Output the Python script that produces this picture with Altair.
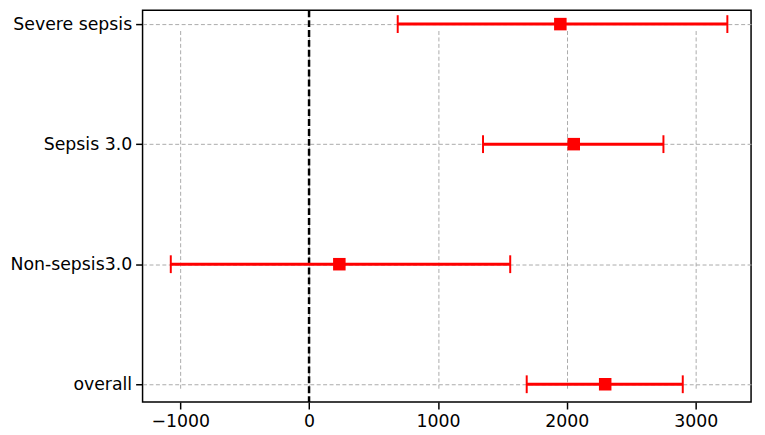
import altair as alt
import pandas as pd

categories = ["Severe sepsis", "Sepsis 3.0", "Non-sepsis3.0", "overall"]
estimate = [1950, 2054, 235, 2298]
lower = [688, 1350, -1073, 1689]
upper = [3246, 2750, 1561, 2900]
x_ticks = [-1000, 0, 1000, 2000, 3000]

df = pd.DataFrame({"cat": categories, "est": estimate, "lo": lower, "hi": upper})
zero_df = pd.DataFrame({"x": [0]})

FONT = "DejaVu Sans"

y_enc = alt.Y(
    "cat:N",
    sort=categories,
    scale=alt.Scale(type="point", padding=0, range=[14, 378]),
    axis=alt.Axis(
        title=None,
        grid=True,
        gridDash=[4, 2.5],
        gridColor="#aaaaaa",
        gridWidth=1,
        domain=False,
        ticks=True,
        tickColor="black",
        tickSize=7,
        tickWidth=1.5,
        labelFont=FONT,
        labelFontSize=17.5,
        labelColor="black",
        labelPadding=4,
    ),
)

x_scale = alt.Scale(domain=[-1292, 3430], nice=False, zero=False)
x_axis = alt.Axis(
    title=None,
    values=x_ticks,
    format="d",
    grid=True,
    gridDash=[4, 2.5],
    gridColor="#aaaaaa",
    gridWidth=1,
    domain=False,
    ticks=True,
    tickColor="black",
    tickSize=7,
    tickWidth=1.5,
    labelFont=FONT,
    labelFontSize=17.5,
    labelColor="black",
    labelPadding=4,
)

base = alt.Chart(df)

bars = base.mark_rule(color="#ff0000", strokeWidth=3).encode(
    x=alt.X("lo:Q", scale=x_scale, axis=x_axis),
    x2="hi:Q",
    y=y_enc,
)

cap_lo = base.mark_tick(color="#ff0000", size=18, thickness=2, opacity=1).encode(
    x=alt.X("lo:Q", scale=x_scale), y=y_enc
)
cap_hi = base.mark_tick(color="#ff0000", size=18, thickness=2, opacity=1).encode(
    x=alt.X("hi:Q", scale=x_scale), y=y_enc
)

points = base.mark_square(color="#ff0000", size=160, opacity=1, filled=True).encode(
    x=alt.X("est:Q", scale=x_scale), y=y_enc
)

zero = alt.Chart(zero_df).mark_rule(
    color="black", strokeWidth=2.5, strokeDash=[7, 3]
).encode(x=alt.X("x:Q", scale=x_scale))

chart = (
    alt.layer(zero, bars, cap_lo, cap_hi, points)
    .properties(
        width=615,
        height=396,
        autosize=alt.AutoSizeParams(type="none"),
        padding={"left": 136, "top": 0, "right": 6, "bottom": 30},
    )
    .configure(background="white")
    .configure_view(stroke="black", strokeWidth=1.5)
)

chart.save("out.html", embed_options={"renderer": "svg", "actions": False})
